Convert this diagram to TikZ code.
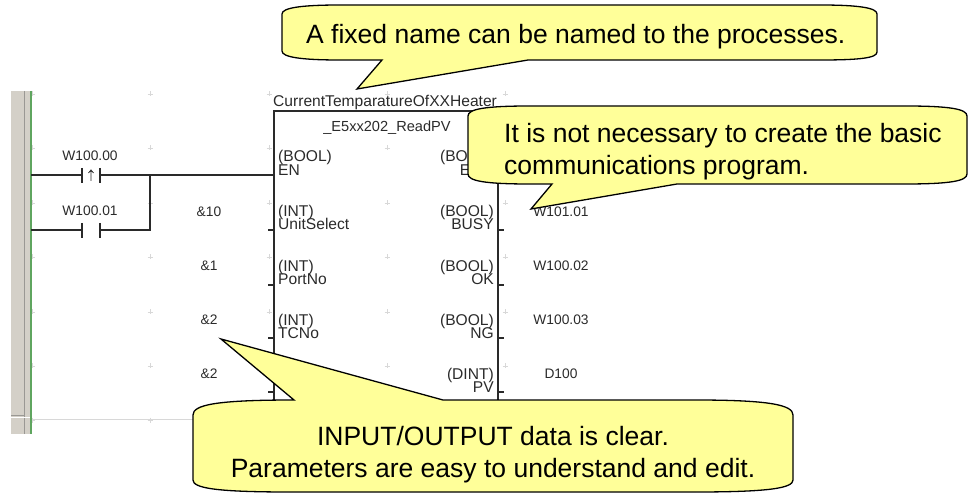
\documentclass[tikz,border=0pt]{standalone}
\usepackage{fontspec}
\setmainfont{Liberation Sans}
\usetikzlibrary{positioning}
\definecolor{tipyellow}{HTML}{FFFF99}
\definecolor{barface}{HTML}{D4D0C8}
\definecolor{barshade}{HTML}{9A9894}
\definecolor{railgreen}{HTML}{5FA55F}
\definecolor{griddot}{HTML}{D8D8D8}
\definecolor{inktext}{HTML}{2A2A2A}

\begin{document}
\begin{tikzpicture}[x=1pt,y=-1pt,
wire/.style={draw=inktext,line width=1.1pt},
tip/.style={draw=black,line width=1.3pt,fill=tipyellow,line join=miter},
tiptext/.style={font=\fontsize{26.5}{32}\selectfont,text=black,inner sep=0pt,align=left},
small/.style={font=\fontsize{13.8}{16}\selectfont,text=inktext,inner sep=0pt},
wide/.style={font=\fontsize{15.6}{16}\selectfont,text=inktext,inner sep=0pt},
pinin/.style={wide,anchor=west},
pinout/.style={wide,anchor=east}]
\useasboundingbox (0,0) rectangle (975,494);

% grid marks
\foreach \x in {32,150,269,387,505}
  \foreach \y in {94,148,203,257,312,366,420}
    \draw [griddot] (\x-2.5,\y) -- (\x+2.5,\y) (\x,\y-2.5) -- (\x,\y+2.5);
\draw [griddot,line width=.8pt] (32,419) -- (195,419);

% left rail
\fill [barface] (11,91) rectangle (30,434);
\draw [barshade,line width=1pt] (24,91) -- (24,434);
\draw [barshade,line width=1pt] (11,415) -- (25,415);
\draw [white,line width=1pt] (11,417) -- (30,417);
\draw [railgreen,line width=1.8pt] (31,91) -- (31,434);

% ladder
\coordinate (railA) at (31,175);
\coordinate (contAl) at (82,175);
\coordinate (contAr) at (100,175);
\coordinate (joinA) at (150,175);
\coordinate (pinEN) at (274,175);
\coordinate (railB) at (31,230);
\coordinate (contBl) at (82,230);
\coordinate (contBr) at (100,230);
\coordinate (joinB) at (150,230);
\draw [wire] (railA) -- (contAl) (contAr) -- (joinA) -- (pinEN);
\draw [wire] (railB) -- (contBl) (contBr) -- (joinB) -- (joinA);
\draw [wire] (82,168) -- (82,183) (100,168) -- (100,183);
\draw [wire] (82,223) -- (82,238) (100,223) -- (100,238);
\draw [wire,line width=.8pt] (91,181) -- (91,170) (88.5,173) -- (91,170) -- (93.5,173);
\node (contA) [small] at (90,156) {W100.00};
\node (contB) [small] at (90,211) {W100.01};

% function block
\draw [wire] (274,405) -- (274,111) -- (498,111) -- (498,405);
\foreach \y in {230,285,338,392} {
  \draw [wire] (268,\y) -- (274,\y);
  \draw [wire] (498,\y) -- (504,\y);
}
\node (inst) [wide,anchor=west] at (273,102) {CurrentTemparatureOfXXHeater};
\node (fb) [small,font=\fontsize{14.6}{16}\selectfont] at (387,128) {\_E5xx202\_ReadPV};

\node (tEN) [pinin] at (278,157) {(BOOL)};
\node (nEN) [pinin] at (278,170) {EN};
\node (tUnit) [pinin] at (278,212) {(INT)};
\node (nUnit) [pinin] at (278,224) {UnitSelect};
\node (tPort) [pinin] at (278,267) {(INT)};
\node (nPort) [pinin] at (278,279) {PortNo};
\node (tTC) [pinin] at (278,321) {(INT)};
\node (nTC) [pinin] at (278,333) {TCNo};

\node (tENO) [pinout] at (494,157) {(BOOL)};
\node (nENO) [pinout] at (494,170) {ENO};
\node (tBusy) [pinout] at (494,212) {(BOOL)};
\node (nBusy) [pinout] at (494,224) {BUSY};
\node (tOK) [pinout] at (494,267) {(BOOL)};
\node (nOK) [pinout] at (494,279) {OK};
\node (tNG) [pinout] at (494,321) {(BOOL)};
\node (nNG) [pinout] at (494,333) {NG};
\node (tPV) [pinout] at (494,375) {(DINT)};
\node (nPV) [pinout] at (494,387) {PV};

\node (vUnit) [small] at (209,212) {\&10};
\node (vPort) [small] at (209,266) {\&1};
\node (vTC) [small] at (209,320) {\&2};
\node (vExtra) [small] at (209,374) {\&2};
\node (vBusy) [small] at (561,212) {W101.01};
\node (vOK) [small] at (561,266) {W100.02};
\node (vNG) [small] at (561,320) {W100.03};
\node (vPV) [small] at (561,374) {D100};

% callouts
\draw [tip] (382,60) -- (357,89) -- (528,60) -- (820,60)
  .. controls (860,60) and (877,58) .. (877,52) -- (877,14)
  .. controls (877,8) and (860,5) .. (820,5) -- (340,5)
  .. controls (300,5) and (282,8) .. (282,14) -- (282,51)
  .. controls (282,57) and (300,60) .. (340,60) -- cycle;
\node (tipName) [tiptext,anchor=west] at (306,37) {A fixed name can be named to the processes.};

\draw [tip] (552,184) -- (531,209) -- (677,184) -- (905,184)
  .. controls (950,184) and (967,181) .. (967,174) -- (967,116)
  .. controls (967,109) and (950,106) .. (905,106) -- (530,106)
  .. controls (485,106) and (468,109) .. (468,116) -- (468,174)
  .. controls (468,181) and (485,184) .. (530,184) -- cycle;
\node (tipComm) [tiptext,anchor=west] at (504,152) {It is not necessary to create the basic\\communications program.};

\draw [tip] (294,400) -- (221,339) -- (443,400) -- (695,400)
  .. controls (770,400) and (793,405) .. (793,415) -- (793,480)
  .. controls (793,488) and (770,492) .. (695,492) -- (290,492)
  .. controls (215,492) and (193,488) .. (193,480) -- (193,415)
  .. controls (193,405) and (215,400) .. (294,400) -- cycle;
\node (tipData) [tiptext,align=center] at (493,455) {INPUT/OUTPUT data is clear.\\Parameters are easy to understand and edit.};
\end{tikzpicture}
\end{document}
